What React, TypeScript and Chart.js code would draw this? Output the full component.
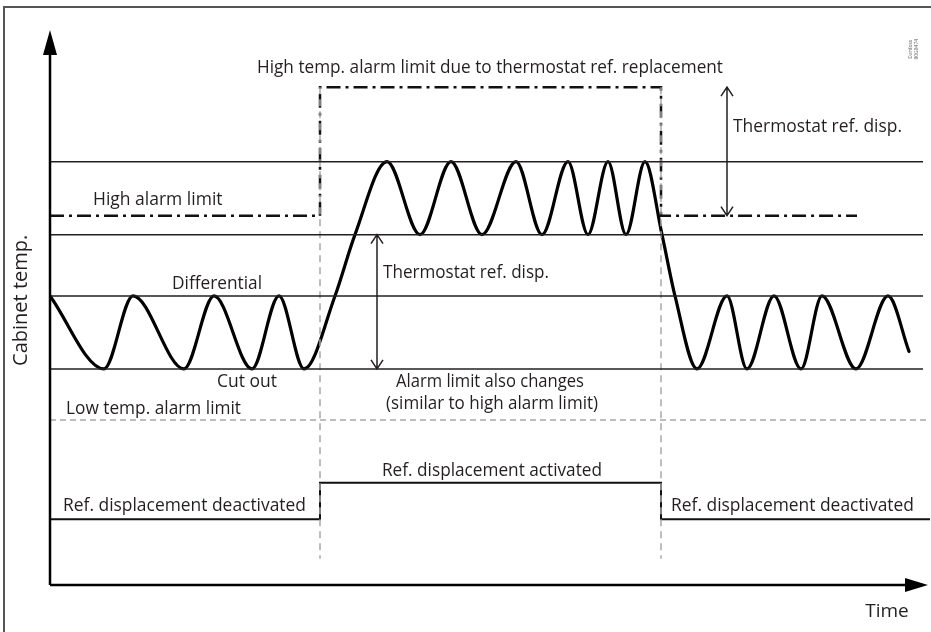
import React, { useEffect, useRef } from 'react';
import { Chart, registerables } from 'chart.js';

Chart.register(...registerables);

// ---- Temperature levels (schematic °C) ----
const CUT_OUT = 0;
const CUT_IN = 5;
const DISP_CUT_OUT = 9.2;
const DISP_CUT_IN = 14.2;
const HIGH_ALARM = 10.5;
const HIGH_ALARM_DISP = 19.3;
const LOW_ALARM = -3.5;
const REF_OFF = -10.3;
const REF_ON = -7.8;
const GUIDE_BOTTOM = -13;

// ---- Time marks (schematic minutes) ----
const T_START = 0;
const T_ON = 27.0;
const T_OFF = 61.1;
const T_END = 88;
const T_LINE_END = 87.3;
const T_ALARM_END = 80.7;

// ---- Cabinet temperature curve ----
const cabinetTime = [0, 5.4, 8.3, 13.4, 16.4, 20.2, 22.9, 25.4, 28.5, 30.5, 33.7, 37.0, 40.1, 43.2, 46.6, 49.2, 51.8, 53.8, 55.8, 57.6, 59.5, 61.2, 62.5, 64.7, 67.7, 69.7, 72.4, 75.1, 77.2, 80.6, 83.8, 85.9];
const cabinetTemp = [5, 0, 5, 0, 5, 0, 5, 0, 5, 9.2, 14.2, 9.2, 14.2, 9.2, 14.2, 9.2, 14.2, 9.2, 14.2, 9.2, 14.2, 9.2, 5, 0, 5, 0, 5, 0, 5, 0, 5, 1.2];

// ---- High alarm limit (dash-dot) ----
const alarmTime = [T_START, T_ON, T_ON, T_OFF, T_OFF, T_ALARM_END];
const alarmTemp = [HIGH_ALARM, HIGH_ALARM, HIGH_ALARM_DISP, HIGH_ALARM_DISP, HIGH_ALARM, HIGH_ALARM];

// ---- Ref. displacement state ----
const refTime = [T_START, T_ON, T_ON, T_OFF, T_OFF, T_END];
const refState = [REF_OFF, REF_OFF, REF_ON, REF_ON, REF_OFF, REF_OFF];

// ---- Thermostat levels (thin lines) ----
const levelValues = [CUT_IN, CUT_OUT, DISP_CUT_OUT, DISP_CUT_IN];

// ---- Switch instants (vertical dashed guides) ----
const switchTimes = [T_ON, T_OFF];

// ---- Double arrows ----
const arrowTimes = [67.7, 32.7];
const arrowFrom = [HIGH_ALARM_DISP, DISP_CUT_OUT];
const arrowTo = [HIGH_ALARM, CUT_OUT];

// ---- Text annotations ----
const labelTexts = [
  'High temp. alarm limit due to thermostat ref. replacement',
  'Thermostat ref. disp.',
  'High alarm limit',
  'Thermostat ref. disp.',
  'Differential',
  'Cut out',
  'Alarm limit also changes',
  '(similar to high alarm limit)',
  'Low temp. alarm limit',
  'Ref. displacement activated',
  'Ref. displacement deactivated',
  'Ref. displacement deactivated',
  'Time',
];
const labelTimes = [44, 68.3, 4.3, 33.3, 12.2, 16.7, 44, 44.2, 1.6, 44.2, 1.3, 62.1, 83.7];
const labelTemps = [20.6, 16.55, 11.55, 6.55, 5.85, -0.9, -0.9, -2.4, -2.75, -7.0, -9.4, -9.4, -16.6];
const labelAlign: CanvasTextAlign[] = ['center', 'left', 'left', 'left', 'left', 'left', 'center', 'center', 'left', 'center', 'left', 'left', 'center'];
const labelMaxW = [466, 169, 130, 166, 90, 60, 188, 212, 175, 220, 243, 243, 44];
const labelSize = [17.5, 17.5, 17.5, 17.5, 17.5, 17.5, 17.5, 17.5, 17.5, 17.5, 17.5, 17.5, 19];

const FONT = '"Open Sans", "Noto Sans", sans-serif';
const INK = '#231f20';

const seg = (xs: number[], ys: number[]) => xs.map((x, i) => ({ x, y: ys[i] }));

const diagramPlugin = {
  id: 'diagram',
  afterDatasetsDraw(chart: any) {
    const { ctx, chartArea, scales } = chart;
    const xs = scales.x;
    const ys = scales.y;
    ctx.save();

    // frame
    ctx.strokeStyle = '#555';
    ctx.lineWidth = 2;
    ctx.beginPath();
    ctx.moveTo(4, chart.height + 2);
    ctx.lineTo(4, 7);
    ctx.lineTo(chart.width + 2, 7);
    ctx.stroke();

    // axes
    const left = chartArea.left;
    const bottom = chartArea.bottom;
    ctx.strokeStyle = '#000';
    ctx.fillStyle = '#000';
    ctx.lineWidth = 2.5;
    ctx.beginPath();
    ctx.moveTo(left, bottom);
    ctx.lineTo(left, chartArea.top + 12);
    ctx.moveTo(left, bottom);
    ctx.lineTo(chartArea.right - 12, bottom);
    ctx.stroke();
    // y arrow head
    ctx.beginPath();
    ctx.moveTo(left, chartArea.top - 9);
    ctx.lineTo(left - 7, chartArea.top + 16);
    ctx.lineTo(left + 7, chartArea.top + 16);
    ctx.closePath();
    ctx.fill();
    // x arrow head
    ctx.beginPath();
    ctx.moveTo(chartArea.right - 2, bottom);
    ctx.lineTo(chartArea.right - 25, bottom - 7);
    ctx.lineTo(chartArea.right - 25, bottom + 7);
    ctx.closePath();
    ctx.fill();

    // double arrows
    ctx.lineWidth = 1.5;
    ctx.strokeStyle = INK;
    arrowTimes.forEach((t, i) => {
      const x = xs.getPixelForValue(t);
      const y1 = ys.getPixelForValue(arrowFrom[i]);
      const y2 = ys.getPixelForValue(arrowTo[i]);
      const dir = y2 > y1 ? 1 : -1;
      ctx.beginPath();
      ctx.moveTo(x, y1);
      ctx.lineTo(x, y2);
      ctx.moveTo(x - 6, y1 + dir * 9);
      ctx.lineTo(x, y1);
      ctx.lineTo(x + 6, y1 + dir * 9);
      ctx.moveTo(x - 6, y2 - dir * 9);
      ctx.lineTo(x, y2);
      ctx.lineTo(x + 6, y2 - dir * 9);
      ctx.stroke();
    });

    // labels
    ctx.fillStyle = INK;
    ctx.textBaseline = 'middle';
    labelTexts.forEach((txt, i) => {
      ctx.font = `${labelSize[i]}px ${FONT}`;
      ctx.textAlign = labelAlign[i];
      ctx.fillText(txt, xs.getPixelForValue(labelTimes[i]), ys.getPixelForValue(labelTemps[i]), labelMaxW[i]);
    });

    // y axis title
    ctx.save();
    ctx.translate(xs.getPixelForValue(-2.9), ys.getPixelForValue(4.7));
    ctx.rotate(-Math.PI / 2);
    ctx.textAlign = 'center';
    ctx.font = `20px ${FONT}`;
    ctx.fillText('Cabinet temp.', 0, 0, 146);
    ctx.restore();

    // drawing number
    ctx.save();
    ctx.translate(xs.getPixelForValue(86.1), ys.getPixelForValue(21.9));
    ctx.rotate(-Math.PI / 2);
    ctx.textAlign = 'center';
    ctx.fillStyle = '#666';
    ctx.font = `5px ${FONT}`;
    ctx.fillText('Danfoss', 0, 0);
    ctx.fillText('80G8474', 0, 6);
    ctx.restore();

    ctx.restore();
  },
};

export default function App() {
  const canvasRef = useRef<HTMLCanvasElement | null>(null);

  useEffect(() => {
    if (!canvasRef.current) return;
    const lineBase = { pointRadius: 0, tension: 0, fill: false };
    const datasets: any[] = [];

    levelValues.forEach((v) => {
      datasets.push({
        ...lineBase,
        data: seg([T_START, T_LINE_END], [v, v]),
        borderColor: INK,
        borderWidth: 1.5,
      });
    });

    datasets.push({
      ...lineBase,
      data: seg([T_START, T_END], [LOW_ALARM, LOW_ALARM]),
      borderColor: '#a8a8a8',
      borderWidth: 1.5,
      borderDash: [6, 4],
    });

    switchTimes.forEach((t) => {
      datasets.push({
        ...lineBase,
        data: seg([t, t], [HIGH_ALARM_DISP, GUIDE_BOTTOM]),
        borderColor: '#a8a8a8',
        borderWidth: 1.5,
        borderDash: [7, 5],
      });
    });

    datasets.push({
      ...lineBase,
      data: seg(alarmTime, alarmTemp),
      borderColor: '#111',
      borderWidth: 2.5,
      borderDash: [14, 5, 3, 5],
    });

    datasets.push({
      ...lineBase,
      data: seg(refTime, refState),
      borderColor: '#111',
      borderWidth: 2,
    });

    datasets.push({
      ...lineBase,
      data: seg(cabinetTime, cabinetTemp),
      borderColor: '#000',
      borderWidth: 3.2,
      cubicInterpolationMode: 'monotone',
      borderCapStyle: 'round',
      borderJoinStyle: 'round',
    });

    const chart = new Chart(canvasRef.current, {
      type: 'scatter',
      data: { datasets },
      options: {
        animation: false,
        responsive: true,
        maintainAspectRatio: false,
        devicePixelRatio: 1,
        showLine: true,
        layout: { padding: { left: 50, right: 1, top: 39, bottom: 47 } },
        plugins: { legend: { display: false }, tooltip: { enabled: false }, title: { display: false } },
        events: [],
        scales: {
          x: { type: 'linear', min: 0, max: 88, display: false },
          y: { type: 'linear', min: -14.8, max: 22.6, display: false },
        },
      } as any,
      plugins: [diagramPlugin],
    });
    return () => chart.destroy();
  }, []);

  return (
    <div style={{ position: 'fixed', left: 0, top: 0, width: 931, height: 632, background: '#fff' }}>
      <canvas ref={canvasRef} />
    </div>
  );
}
